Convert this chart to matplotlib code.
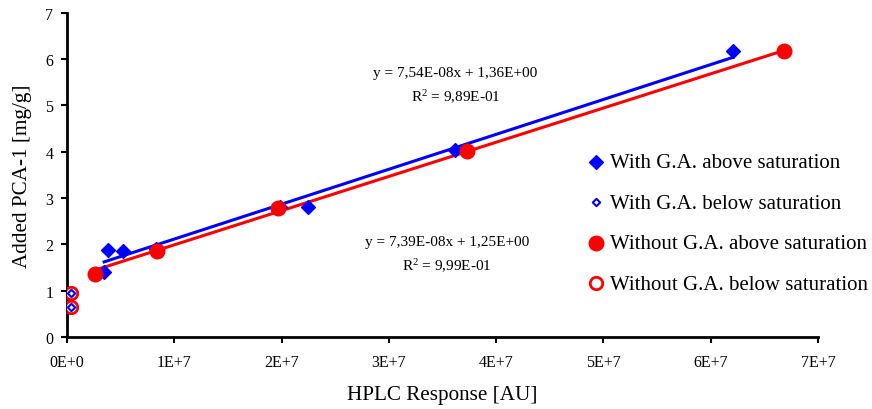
import numpy as np
import matplotlib
matplotlib.use("Agg")
import matplotlib.pyplot as plt
from matplotlib.ticker import FuncFormatter

plt.rcParams['font.family'] = ['Liberation Serif', 'DejaVu Serif']
plt.rcParams['mathtext.fontset'] = 'custom'
plt.rcParams['mathtext.rm'] = 'Liberation Serif'
plt.rcParams['mathtext.it'] = 'Liberation Serif:italic'

# with G.A.
ga_above_x = [3.45e6, 3.8e6, 5.2e6, 8.3e6, 1.98e7, 2.25e7, 3.62e7, 6.21e7]
ga_above_y = [1.40, 1.88, 1.86, 1.90, 2.80, 2.81, 4.04, 6.18]
ga_below_x = [4.0e5, 4.0e5]
ga_below_y = [0.94, 0.64]
# without G.A.
noga_above_x = [2.6e6, 8.4e6, 1.97e7, 3.73e7, 6.68e7]
noga_above_y = [1.36, 1.86, 2.79, 4.02, 6.18]
noga_below_x = [4.0e5, 4.0e5]
noga_below_y = [0.94, 0.64]

# trend lines (slope, intercept)
fit_ga = (7.54e-8, 1.36)
fit_noga = (7.39e-8, 1.25)

fig = plt.figure(figsize=(8.72, 4.1), dpi=100)
ax = fig.add_axes([0.077, 0.176, 0.861, 0.79])

xs = np.array([min(ga_above_x), max(ga_above_x)])
ax.plot(xs, fit_ga[0] * xs + fit_ga[1], color='#0000ff', lw=2.2, zorder=2)
xs2 = np.array([min(noga_above_x), max(noga_above_x)])
ax.plot(xs2, fit_noga[0] * xs2 + fit_noga[1], color='#ff0000', lw=2.2, zorder=2)

ax.scatter(ga_above_x, ga_above_y, marker='D', s=50, color='#0000ff', zorder=3,
           label='With G.A. above saturation')
ax.scatter(noga_above_x, noga_above_y, marker='o', s=110, color='#ff0000', zorder=4,
           label='Without G.A. above saturation')
ax.scatter(noga_below_x, noga_below_y, marker='o', s=80, facecolor='white',
           edgecolor='#ff0000', linewidth=2, zorder=4,
           label='Without G.A. below saturation')
ax.scatter(ga_below_x, ga_below_y, marker='D', s=14, facecolor='white',
           edgecolor='#0000ff', linewidth=1.5, zorder=5,
           label='With G.A. below saturation')

ax.text(3.62e7, 5.72, 'y = 7,54E-08x + 1,36E+00', ha='center', va='center', fontsize=11)
ax.text(3.62e7, 5.2, 'R$^2$ = 9,89E-01', ha='center', va='center', fontsize=11)
ax.text(3.54e7, 2.05, 'y = 7,39E-08x + 1,25E+00', ha='center', va='center', fontsize=11)
ax.text(3.54e7, 1.55, 'R$^2$ = 9,99E-01', ha='center', va='center', fontsize=11)

ax.set_xlim(0, 7e7)
ax.set_ylim(0, 7)
ax.set_xticks(np.arange(0, 7.1e7, 1e7))
ax.set_yticks(range(0, 8))
ax.xaxis.set_major_formatter(FuncFormatter(lambda v, p: '0E+0' if v == 0 else '%dE+7' % round(v / 1e7)))
ax.tick_params(direction='out', length=4, width=1.5, labelsize=11.5, pad=8)
ax.tick_params(axis='y', pad=6)
for s in ['top', 'right']:
    ax.spines[s].set_visible(False)
for s in ['left', 'bottom']:
    ax.spines[s].set_linewidth(2)

ax.set_xlabel('HPLC Response [AU]', fontsize=15.2)
ax.xaxis.set_label_coords(0.5, -0.148)
ax.set_ylabel('Added PCA-1 [mg/g]', fontsize=15.2)
ax.yaxis.set_label_coords(-0.047, 0.5)

h, l = ax.get_legend_handles_labels()
order = [0, 3, 1, 2]
leg = ax.legend([h[i] for i in order], [l[i] for i in order], loc='center left',
                bbox_to_anchor=(0.676, 0.351), frameon=False, fontsize=15,
                handletextpad=0.1, labelspacing=1.0, borderaxespad=0, handlelength=1.2)

fig.savefig('out.png', dpi=100)
